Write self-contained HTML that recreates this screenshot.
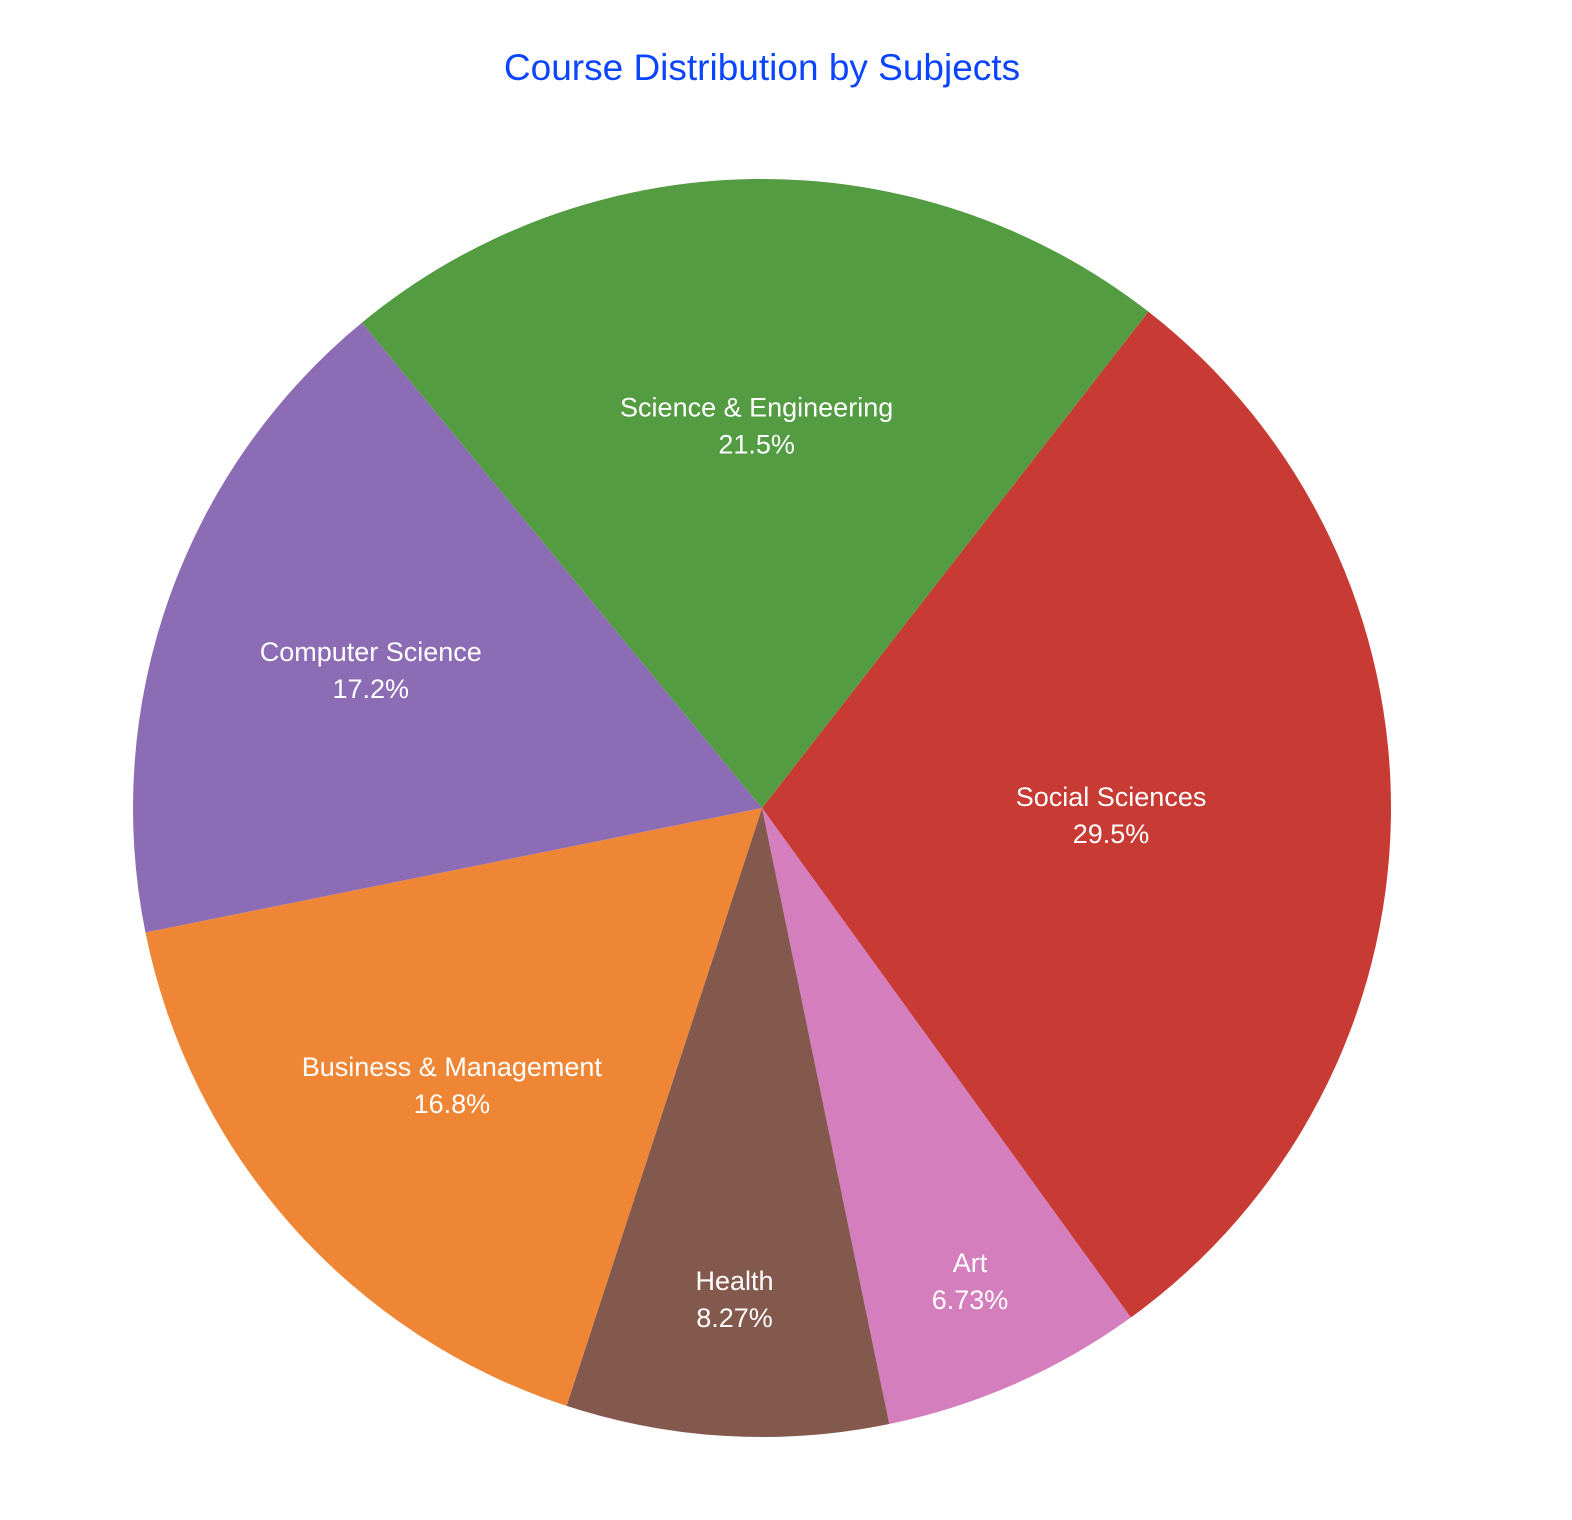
<!DOCTYPE html>
<html><head><meta charset="utf-8"><style>
body{margin:0;background:#fff;}
svg{display:block;font-family:"Liberation Sans",sans-serif;}
</style></head><body>
<svg id="chart" width="1572" height="1520" viewBox="0 0 1572 1520">
<text x="762" y="80" text-anchor="middle" font-size="37" fill="#0b45ff">Course Distribution by Subjects</text>
<g id="slices"></g><g id="labels"></g>
</svg>
<script>
const categories=["Social Sciences","Art","Health","Business & Management","Computer Science","Science & Engineering"];
const values=[29.5,6.73,8.27,16.8,17.2,21.5];
const pctLabels=["29.5%","6.73%","8.27%","16.8%","17.2%","21.5%"];
const colors=["#c83a34","#d47ebd","#83594e","#ef8636","#8d6cb6","#539c41"];
const labelFrac=[0.555,0.82,0.78,0.66,0.66,0.61];
const cx=762,cy=808,R=629,startDeg=37.9;
const NS="http://www.w3.org/2000/svg";
const total=values.reduce((a,b)=>a+b,0);
const gS=document.getElementById('slices'),gL=document.getElementById('labels');
function pt(deg,r){const a=deg*Math.PI/180;return [cx+r*Math.sin(a),cy-r*Math.cos(a)];}
let ang=startDeg;
values.forEach((v,i)=>{
  const sweep=v/total*360;const a0=ang,a1=ang+sweep;ang=a1;
  const p0=pt(a0,R),p1=pt(a1,R);
  const p=document.createElementNS(NS,'path');
  p.setAttribute('d',`M${cx},${cy}L${p0[0]},${p0[1]}A${R},${R} 0 ${sweep>180?1:0} 1 ${p1[0]},${p1[1]}Z`);
  p.setAttribute('fill',colors[i]);
  
  
  gS.appendChild(p);
  const m=pt((a0+a1)/2,R*labelFrac[i]);
  const t=document.createElementNS(NS,'text');
  t.setAttribute('text-anchor','middle');t.setAttribute('fill','#fff');t.setAttribute('font-size','27');
  
  
  const s1=document.createElementNS(NS,'tspan');s1.setAttribute('x',m[0]);s1.setAttribute('y',m[1]-8);s1.textContent=categories[i];
  const s2=document.createElementNS(NS,'tspan');s2.setAttribute('x',m[0]);s2.setAttribute('y',m[1]+29);s2.textContent=pctLabels[i];
  t.appendChild(s1);t.appendChild(s2);gL.appendChild(t);
});
</script>
</body></html>
